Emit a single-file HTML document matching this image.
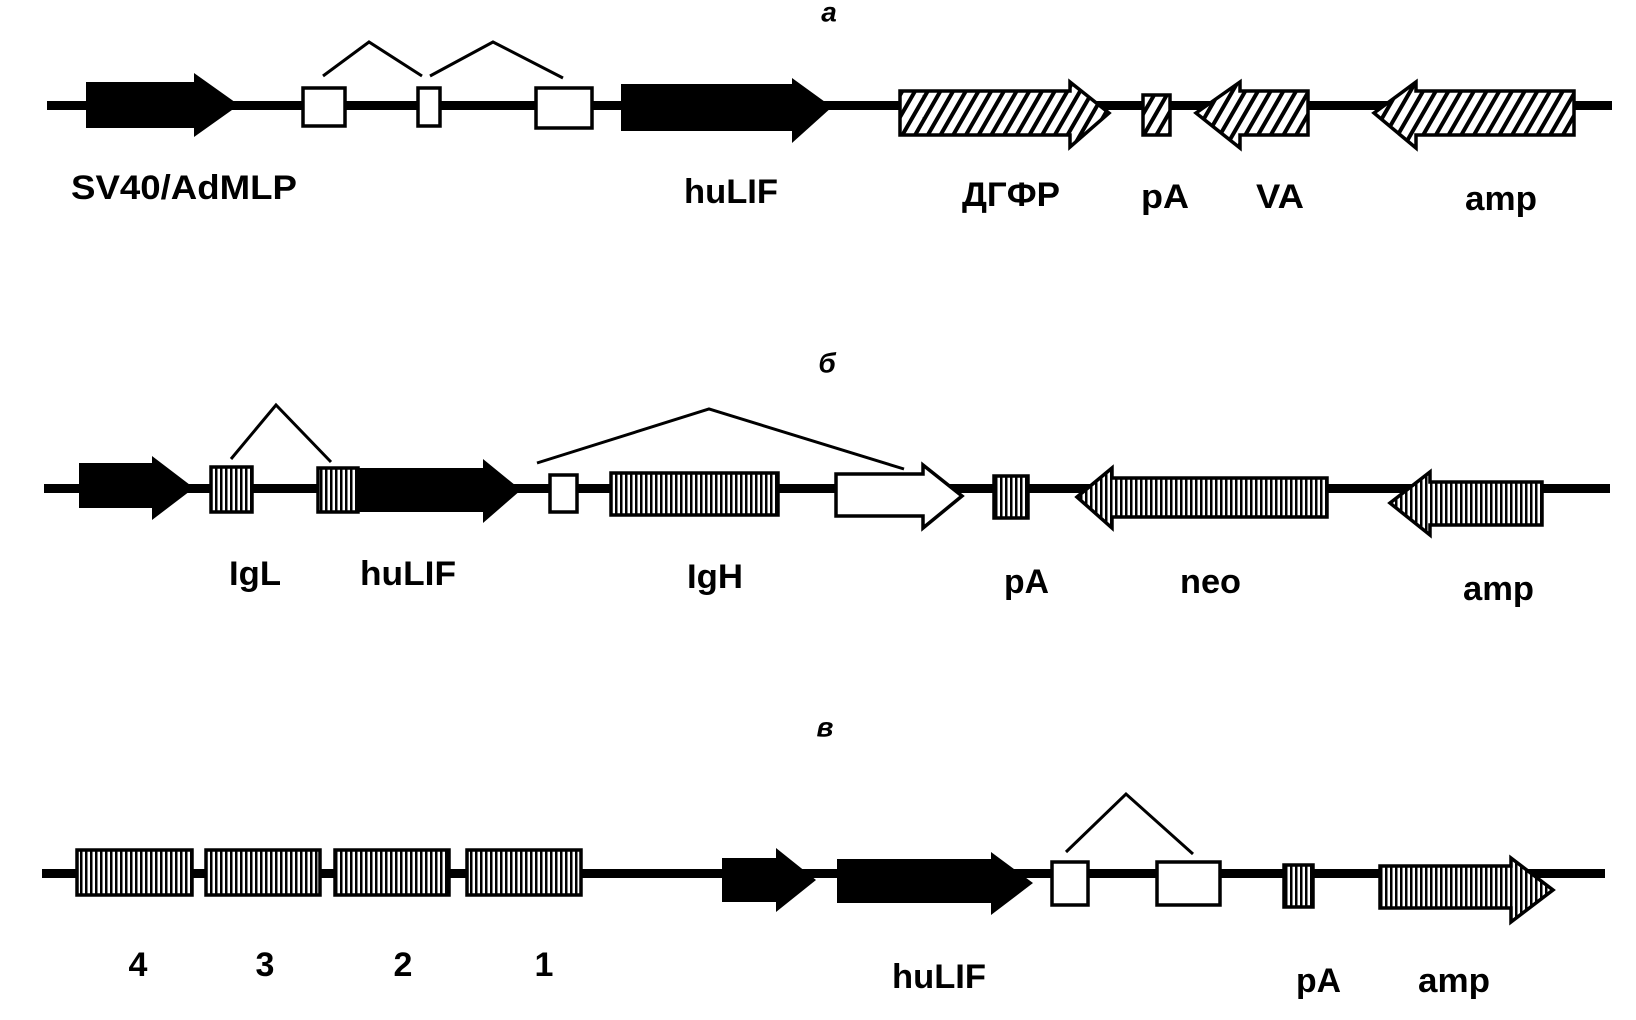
<!DOCTYPE html>
<html><head><meta charset="utf-8"><style>html,body{margin:0;padding:0;background:#fff}svg{display:block}</style></head>
<body>
<svg width="1636" height="1020" viewBox="0 0 1636 1020" xmlns="http://www.w3.org/2000/svg">
<defs>
<pattern id="diag" patternUnits="userSpaceOnUse" width="11" height="11" patternTransform="rotate(30)">
<rect width="11" height="11" fill="#fff"/><rect width="4" height="11" fill="#000"/></pattern>
<pattern id="vert" patternUnits="userSpaceOnUse" width="5" height="10">
<rect width="5" height="10" fill="#fff"/><rect width="2.5" height="10" fill="#000"/></pattern>
</defs>
<g font-family="Liberation Sans, sans-serif" font-weight="bold" font-size="34" fill="#000" dominant-baseline="middle" stroke-linejoin="miter">
<!-- Row a -->
<text x="829" y="14" font-style="italic" font-size="28" text-anchor="middle">а</text>
<rect x="47" y="101" width="1565" height="9"/>
<polygon points="86,82 194,82 194,73 239,105 194,137 194,128 86,128"/>
<polyline points="323,76 369,42 422,76" fill="none" stroke="#000" stroke-width="3"/>
<polyline points="430,76 493,42 563,78" fill="none" stroke="#000" stroke-width="3"/>
<rect x="303" y="88" width="42" height="38" fill="#fff" stroke="#000" stroke-width="3.5"/>
<rect x="418" y="88" width="22" height="38" fill="#fff" stroke="#000" stroke-width="3.5"/>
<rect x="536" y="88" width="56" height="40" fill="#fff" stroke="#000" stroke-width="3.5"/>
<polygon points="621,84 792,84 792,78 832,107 792,143 792,131 621,131"/>
<polygon points="900,91 1070,91 1070,82 1109,113 1070,147 1070,135 900,135" fill="url(#diag)" stroke="#000" stroke-width="3.5"/>
<rect x="1143" y="95" width="27" height="40" fill="url(#diag)" stroke="#000" stroke-width="3.5"/>
<polygon points="1196,113 1240,82 1240,91 1308,91 1308,135 1240,135 1240,148" fill="url(#diag)" stroke="#000" stroke-width="3.5"/>
<polygon points="1374,113 1416,82 1416,91 1574,91 1574,135 1416,135 1416,148" fill="url(#diag)" stroke="#000" stroke-width="3.5"/>
<text x="71" y="190" textLength="226" lengthAdjust="spacingAndGlyphs">SV40/AdMLP</text>
<text x="684" y="194" textLength="94" lengthAdjust="spacingAndGlyphs">huLIF</text>
<text x="962" y="197" textLength="98" lengthAdjust="spacingAndGlyphs">ДГФР</text>
<text x="1141" y="199" textLength="48" lengthAdjust="spacingAndGlyphs">pA</text>
<text x="1256" y="199" textLength="48" lengthAdjust="spacingAndGlyphs">VA</text>
<text x="1465" y="201" textLength="72" lengthAdjust="spacingAndGlyphs">amp</text>
<!-- Row b -->
<text x="827" y="365" font-style="italic" font-size="28" text-anchor="middle">б</text>
<rect x="44" y="484" width="1566" height="9"/>
<polygon points="79,463 152,463 152,456 194,488 152,520 152,508 79,508"/>
<polyline points="231,459 276,405 331,462" fill="none" stroke="#000" stroke-width="3"/>
<polyline points="537,463 709,409 904,469" fill="none" stroke="#000" stroke-width="3"/>
<rect x="211" y="467" width="41" height="45" fill="url(#vert)" stroke="#000" stroke-width="3.5"/>
<polygon points="357,468 483,468 483,459 521,490 483,523 483,512 357,512"/>
<rect x="318" y="468" width="40" height="44" fill="url(#vert)" stroke="#000" stroke-width="3.5"/>
<rect x="550" y="475" width="27" height="37" fill="#fff" stroke="#000" stroke-width="3.5"/>
<rect x="611" y="473" width="167" height="42" fill="url(#vert)" stroke="#000" stroke-width="3.5"/>
<polygon points="836,474 923,474 923,465 962,496 923,528 923,516 836,516" fill="#fff" stroke="#000" stroke-width="3.5"/>
<rect x="994" y="476" width="34" height="42" fill="url(#vert)" stroke="#000" stroke-width="3.5"/>
<polygon points="1077,497 1112,468 1112,478 1327,478 1327,517 1112,517 1112,528" fill="url(#vert)" stroke="#000" stroke-width="3.5"/>
<polygon points="1390,503 1430,472 1430,482 1542,482 1542,525 1430,525 1430,535" fill="url(#vert)" stroke="#000" stroke-width="3.5"/>
<text x="229" y="576" textLength="52" lengthAdjust="spacingAndGlyphs">IgL</text>
<text x="360" y="576" textLength="96" lengthAdjust="spacingAndGlyphs">huLIF</text>
<text x="687" y="579" textLength="56" lengthAdjust="spacingAndGlyphs">IgH</text>
<text x="1004" y="584" textLength="45" lengthAdjust="spacingAndGlyphs">pA</text>
<text x="1180" y="584" textLength="61" lengthAdjust="spacingAndGlyphs">neo</text>
<text x="1463" y="591" textLength="71" lengthAdjust="spacingAndGlyphs">amp</text>
<!-- Row c -->
<text x="825" y="729" font-style="italic" font-size="28" text-anchor="middle">в</text>
<rect x="42" y="869" width="1563" height="9"/>
<rect x="77" y="850" width="115" height="45" fill="url(#vert)" stroke="#000" stroke-width="3.5"/>
<rect x="206" y="850" width="114" height="45" fill="url(#vert)" stroke="#000" stroke-width="3.5"/>
<rect x="335" y="850" width="114" height="45" fill="url(#vert)" stroke="#000" stroke-width="3.5"/>
<rect x="467" y="850" width="114" height="45" fill="url(#vert)" stroke="#000" stroke-width="3.5"/>
<polygon points="722,858 776,858 776,848 816,880 776,912 776,902 722,902"/>
<polygon points="837,859 991,859 991,852 1033,883 991,915 991,903 837,903"/>
<polyline points="1066,852 1126,794 1193,854" fill="none" stroke="#000" stroke-width="3"/>
<rect x="1052" y="862" width="36" height="43" fill="#fff" stroke="#000" stroke-width="3.5"/>
<rect x="1157" y="862" width="63" height="43" fill="#fff" stroke="#000" stroke-width="3.5"/>
<rect x="1284" y="865" width="29" height="42" fill="url(#vert)" stroke="#000" stroke-width="3.5"/>
<polygon points="1380,866 1511,866 1511,858 1553,890 1511,922 1511,908 1380,908" fill="url(#vert)" stroke="#000" stroke-width="3.5"/>
<text x="138" y="967" text-anchor="middle">4</text>
<text x="265" y="967" text-anchor="middle">3</text>
<text x="403" y="967" text-anchor="middle">2</text>
<text x="544" y="967" text-anchor="middle">1</text>
<text x="892" y="979" textLength="94" lengthAdjust="spacingAndGlyphs">huLIF</text>
<text x="1296" y="983" textLength="45" lengthAdjust="spacingAndGlyphs">pA</text>
<text x="1418" y="983" textLength="72" lengthAdjust="spacingAndGlyphs">amp</text>
</g>
</svg>
</body></html>
